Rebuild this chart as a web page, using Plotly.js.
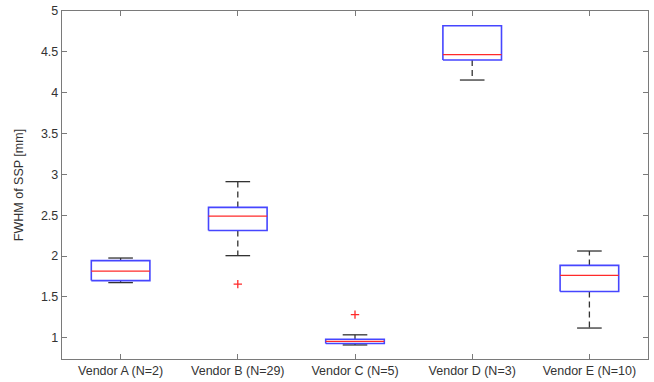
<!DOCTYPE html>
<html>
<head>
<meta charset="utf-8">
<script src="https://cdn.plot.ly/plotly-3.0.1.min.js"></script>
<style>html,body{margin:0;padding:0;background:#fff;}#chart{width:654px;height:382px;}</style>
</head>
<body>
<div id="chart"></div>
<script>
// Data
const categories = ["Vendor A (N=2)", "Vendor B (N=29)", "Vendor C (N=5)", "Vendor D (N=3)", "Vendor E (N=10)"];
const lowerWhisker = [1.675, 2.005, 0.912, 4.155, 1.119];
const q1 = [1.700, 2.313, 0.930, 4.400, 1.566];
const median = [1.816, 2.489, 0.955, 4.467, 1.763];
const q3 = [1.944, 2.596, 0.982, 4.819, 1.886];
const upperWhisker = [1.976, 2.911, 1.036, 4.819, 2.062];
const outlierCat = [1, 2];
const outlierVal = [1.656, 1.283];

const pos = categories.map((c, i) => i + 1);
const boxW = 0.5;
const capHalf = 0.105;
const FONT = 'Liberation Sans, Arial, sans-serif';

const traces = [];
// whiskers (dashed)
const wx = [], wy = [];
pos.forEach((p, i) => {
  if (upperWhisker[i] > q3[i]) { wx.push(p, p, null); wy.push(q3[i], upperWhisker[i], null); }
  if (lowerWhisker[i] < q1[i]) { wx.push(p, p, null); wy.push(q1[i], lowerWhisker[i], null); }
});
traces.push({type: 'scatter', mode: 'lines', x: wx, y: wy,
  line: {color: '#333333', width: 1.3, dash: '6px,4px'}, showlegend: false, hoverinfo: 'skip'});
// caps
const cx = [], cy = [];
pos.forEach((p, i) => {
  if (upperWhisker[i] > q3[i]) { cx.push(p - capHalf, p + capHalf, null); cy.push(upperWhisker[i], upperWhisker[i], null); }
  if (lowerWhisker[i] < q1[i]) { cx.push(p - capHalf, p + capHalf, null); cy.push(lowerWhisker[i], lowerWhisker[i], null); }
});
traces.push({type: 'scatter', mode: 'lines', x: cx, y: cy,
  line: {color: '#333333', width: 1.3}, showlegend: false, hoverinfo: 'skip'});
// boxes
const bx = [], by = [];
pos.forEach((p, i) => {
  const l = p - boxW / 2, r = p + boxW / 2;
  bx.push(l, r, r, l, l, null); by.push(q1[i], q1[i], q3[i], q3[i], q1[i], null);
});
traces.push({type: 'scatter', mode: 'lines', x: bx, y: by,
  line: {color: '#4646ff', width: 1.6}, showlegend: false, hoverinfo: 'skip'});
// medians
const mx = [], my = [];
pos.forEach((p, i) => { mx.push(p - boxW / 2, p + boxW / 2, null); my.push(median[i], median[i], null); });
traces.push({type: 'scatter', mode: 'lines', x: mx, y: my,
  line: {color: '#ff2a2a', width: 1.3}, showlegend: false, hoverinfo: 'skip'});
// outliers
traces.push({type: 'scatter', mode: 'markers', x: outlierCat.map(c => c + 1), y: outlierVal,
  marker: {symbol: 'cross-thin-open', size: 6, line: {color: '#ff2a2a', width: 1.3}, color: '#ff2a2a'},
  showlegend: false, hoverinfo: 'skip'});

const axisCommon = {
  showline: true, linecolor: '#7a7a7a', linewidth: 1.2, mirror: 'ticks',
  ticks: 'inside', ticklen: 5, tickcolor: '#7a7a7a', tickwidth: 1,
  showgrid: false, zeroline: false,
  tickfont: {family: FONT, size: 12.5, color: '#333333'}
};
const layout = {
  width: 654, height: 382,
  margin: {l: 62, r: 6, t: 11, b: 23},
  paper_bgcolor: '#ffffff', plot_bgcolor: '#ffffff',
  showlegend: false,
  xaxis: Object.assign({}, axisCommon, {range: [0.5, 5.5], tickvals: pos, ticktext: categories}),
  yaxis: Object.assign({}, axisCommon, {range: [0.74, 5.0], tickvals: [1, 1.5, 2, 2.5, 3, 3.5, 4, 4.5, 5],
    ticktext: ['1', '1.5', '2', '2.5', '3', '3.5', '4', '4.5', '5'],
    title: {text: 'FWHM of SSP [mm]', standoff: 14, font: {family: FONT, size: 12.5, color: '#333333'}}})
};
Plotly.newPlot('chart', traces, layout, {displayModeBar: false, staticPlot: true});
</script>
</body>
</html>
